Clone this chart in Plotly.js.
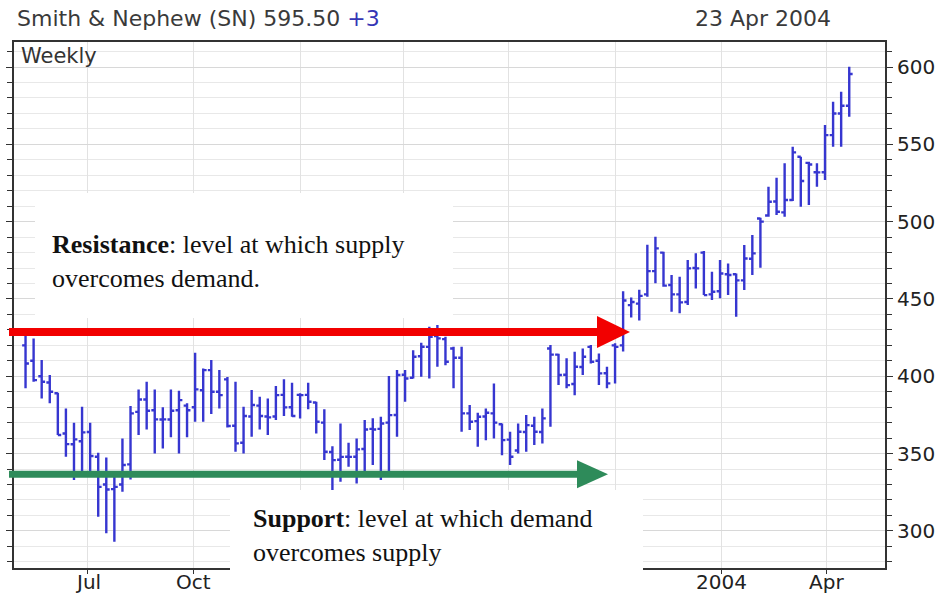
<!DOCTYPE html>
<html>
<head>
<meta charset="utf-8">
<script src="https://cdn.plot.ly/plotly-3.0.1.min.js"></script>
<style>html,body{margin:0;padding:0;background:#fff;}#chart{width:937px;height:595px;}</style>
</head>
<body>
<div id="chart"></div>
<script>
// Weekly bars, first week starting May 2002, last week ending 23 Apr 2004
var firstWeek = '2002-05-08';
var openP = [420,410,400,396,389,363,356,358,364,348,330,327,330,343,377,385,378,372,372,378,381,380,391,404,390,
  398,368,357,374,381,374,374,388,380,388,388,383,370,351,346,348,348,353,366,366,370,375,401,399,413,419,426,424,
  418,412,376,371,374,376,369,359,352,364,368,364,418,414,401,395,406,419,410,402,420,
  420,446,447,453,468,480,459,453,448,470,480,453,455,466,466,462,476,502,504,513,506,514,542,538,532,532,556,570,575];
var highP = [426.6,424.5,410.5,400.8,389.3,379.2,370,380.3,370,350.5,347.5,336.1,359.8,380.7,391.5,396.5,391.5,379.9,391.5,390.6,382.5,415.2,405.1,410.5,404,
  399.5,396.5,380.3,391.1,386.8,385.7,393.7,398,395.8,389,395.8,383.5,378.6,354.8,369.5,357,359.8,371.7,372.8,373.8,400.1,404,404,416.9,421.7,432,433.1,425.6,
  419.1,419.1,381.4,376.4,379.2,395.4,369.5,364.1,369.5,374.9,373.8,379.2,420.2,414.5,411.6,415.9,418,420.2,414.8,406.2,421.3,
  455,451,456,485,490.3,480.6,465.5,464.4,475.2,479.5,481,467.6,475.2,473,466.5,484.9,491.3,502.5,522.6,528.4,537.7,548.5,542,538.8,537.7,562.5,577.6,584,600.2];
var lowP = [392.2,396.5,385.7,382.5,362,348,332.9,338.3,338.3,309.1,298.4,293,325.3,333.3,362,365.6,350.1,353.3,360.5,350.1,360.5,370.6,370.6,375.6,379.2,
  366.9,351.2,350.1,360.9,365.6,362,371.7,374.3,373.8,372.7,378.6,363,345.8,325.3,331.8,341.5,330.7,337.2,342.6,332.9,338.3,360.9,383.5,398.6,399.7,398.6,406.2,407.2,
  392.2,364.1,365.2,354.4,358.7,359.8,349,342.6,350.1,351.2,355.5,356.6,367.4,394.3,392.2,387.8,400.8,408.3,394.3,392.2,395.4,
  416,438,436,451.5,460.1,457.9,441.7,440.7,446.1,456.8,452.5,449.3,450.4,452.5,438.5,455.8,465.5,470.2,503.2,504.3,503.2,513.3,509.7,510.7,522.6,526.9,548.5,548.5,567.9];
var closeP = [408.3,397.5,396.5,390,362,356.1,359.2,363.7,348.4,328.5,326.8,328.5,342.6,376,385,377.7,372.1,372.1,377.7,384.6,378,391.5,404,390,387.8,
  367.8,356.6,374.3,381.4,374.3,373.4,387.8,379.9,374.3,387.8,383.5,370.6,351.2,345.8,347.9,347.9,352.7,365.6,365.6,369.5,374.9,400.8,398.6,412.6,419.1,425.6,424.5,409.4,
  412,376,370.6,373.8,376.4,370,358.7,348,364.1,368.4,364.1,372.8,414,400.8,394.3,406.2,412.6,409.4,401.9,395.4,419,
  449,448,452,468,482.7,458.6,453,447.8,469.8,469.8,452.5,454.7,466.5,465.5,462,476.2,479.5,500,512.9,506.4,514,544.8,526.3,537,531.9,556,570,575,595.5];
var resistanceLevel = [428.6];
var supportLevel = [336.7];
var tickDates = ['2002-07-01','2002-10-01','2003-01-01','2003-04-01','2003-07-01','2003-10-01','2004-01-01','2004-04-01'];
var tickLabels = ['Jul','Oct','','','','','2004','Apr'];

var dates = [];
var d0 = new Date(firstWeek + 'T00:00:00Z');
for (var i = 0; i < closeP.length; i++) {
  var d = new Date(d0.getTime() + i * 7 * 86400000);
  dates.push(d.toISOString().slice(0, 10));
}

var L = 14, R = 885, T = 42, B = 568;
function px(x) { return (x - L) / (R - L); }
function py(y) { return 1 - (y - T) / (B - T); }

var barColor = '#3636d0';
var trace = {
  type: 'ohlc', x: dates, open: openP, high: highP, low: lowP, close: closeP,
  increasing: {line: {color: barColor, width: 2.4}},
  decreasing: {line: {color: barColor, width: 2.4}},
  tickwidth: 0.42, hoverinfo: 'skip', showlegend: false
};

var sans = 'DejaVu Sans, Verdana, sans-serif';
var tickFont = {family: sans, size: 20, color: '#222'};
var annotations = [
  {xref: 'paper', yref: 'paper', x: px(15), y: py(19), xanchor: 'left', yanchor: 'middle', showarrow: false,
   text: 'Smith &amp; Nephew (SN) 595.50 <span style="color:#3535b5">+3</span>',
   font: {family: sans, size: 22, color: '#3a3a3a'}},
  {xref: 'paper', yref: 'paper', x: px(833), y: py(19), xanchor: 'right', yanchor: 'middle', showarrow: false,
   text: '23 Apr 2004', font: {family: sans, size: 22, color: '#3a3a3a'}},
  {xref: 'paper', yref: 'paper', x: px(19), y: py(56), xanchor: 'left', yanchor: 'middle', showarrow: false,
   text: 'Weekly', font: {family: sans, size: 21, color: '#333'}},
  {xref: 'paper', yref: 'paper', x: px(50), y: py(261), xanchor: 'left', yanchor: 'middle', align: 'left', showarrow: false,
   text: '<b>Resistance</b>: level at which supply<br>overcomes demand.',
   font: {family: 'Liberation Serif, Times New Roman, serif', size: 26, color: '#111'}},
  {xref: 'paper', yref: 'paper', x: px(251), y: py(535), xanchor: 'left', yanchor: 'middle', align: 'left', showarrow: false,
   text: '<b>Support</b>: level at which demand<br>overcomes supply',
   font: {family: 'Liberation Serif, Times New Roman, serif', size: 26, color: '#111'}}
];
for (var k = 0; k < tickDates.length; k++) {
  if (!tickLabels[k]) continue;
  annotations.push({xref: 'x', yref: 'paper', x: tickDates[k], y: py(582), xanchor: 'center', yanchor: 'middle',
    showarrow: false, text: tickLabels[k], font: tickFont});
}

var layout = {
  width: 937, height: 595,
  margin: {l: L, r: 937 - R, t: T, b: 595 - B},
  paper_bgcolor: '#fff', plot_bgcolor: '#fff',
  showlegend: false,
  xaxis: {
    type: 'date', range: ['2002-04-28', '2004-05-22'],
    rangeslider: {visible: false},
    tickmode: 'array', tickvals: tickDates, ticktext: tickLabels, showticklabels: false,
    ticks: 'outside', ticklen: 4, tickcolor: '#333',
    showgrid: true, gridcolor: '#e2e2e2', gridwidth: 1,
    showline: true, linecolor: '#333', linewidth: 2, mirror: true,
    fixedrange: true
  },
  yaxis: {
    side: 'right', range: [276, 616.2],
    tickmode: 'linear', tick0: 300, dtick: 50,
    ticks: 'outside', ticklen: 6, tickcolor: '#333',
    minor: {dtick: 10, tick0: 300, ticks: 'outside', ticklen: 5, tickcolor: '#333', showgrid: true, gridcolor: '#e8e8e8'},
    showgrid: true, gridcolor: '#d8d8d8',
    showline: true, linecolor: '#333', linewidth: 2, mirror: 'allticks',
    tickfont: tickFont, zeroline: false, fixedrange: true
  },
  shapes: [
    {type: 'rect', xref: 'paper', yref: 'paper', x0: px(35), x1: px(453), y0: py(318), y1: py(193),
     fillcolor: '#fff', line: {width: 0}, layer: 'above'},
    {type: 'rect', xref: 'paper', yref: 'paper', x0: px(230), x1: px(643), y0: py(595), y1: py(490),
     fillcolor: '#fff', line: {width: 0}, layer: 'above'},
    {type: 'line', xref: 'paper', yref: 'y', x0: px(9), x1: px(600), y0: resistanceLevel[0], y1: resistanceLevel[0],
     line: {color: '#f20000', width: 8}, layer: 'above'},
    {type: 'path', xref: 'paper', yref: 'y', xsizemode: 'pixel', ysizemode: 'pixel',
     xanchor: px(597), yanchor: resistanceLevel[0], path: 'M0,16 L33,0 L0,-16 Z',
     fillcolor: '#f20000', line: {width: 0}, layer: 'above'},
    {type: 'line', xref: 'paper', yref: 'y', x0: px(9), x1: px(580), y0: supportLevel[0], y1: supportLevel[0],
     line: {color: '#2e8b5a', width: 7}, layer: 'above'},
    {type: 'path', xref: 'paper', yref: 'y', xsizemode: 'pixel', ysizemode: 'pixel',
     xanchor: px(577), yanchor: supportLevel[0], path: 'M0,14 L31,0 L0,-14 Z',
     fillcolor: '#2e8b5a', line: {width: 0}, layer: 'above'}
  ],
  annotations: annotations
};

Plotly.newPlot('chart', [trace], layout, {displayModeBar: false, staticPlot: true});
</script>
</body>
</html>
